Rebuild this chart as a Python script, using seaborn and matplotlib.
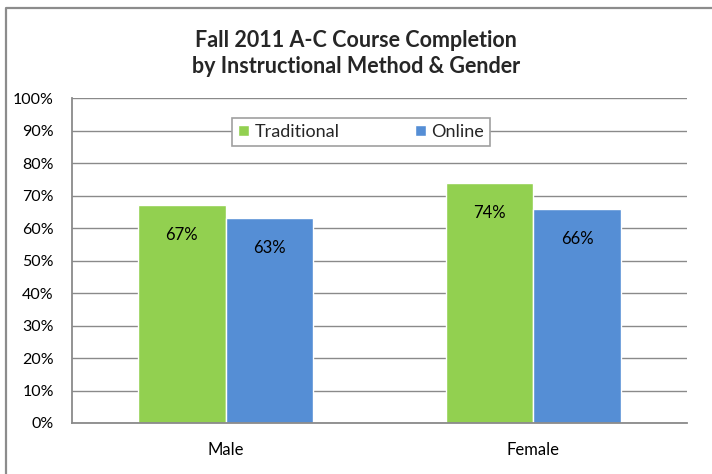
import matplotlib
matplotlib.use("Agg")
import matplotlib.pyplot as plt
import seaborn as sns
import pandas as pd
from matplotlib.ticker import PercentFormatter, MultipleLocator
from matplotlib.lines import Line2D

genders = ["Male", "Female"]
methods = ["Traditional", "Online"]
traditional = [0.67, 0.74]
online = [0.63, 0.66]
colors = {"Traditional": "#92D050", "Online": "#558ED5"}

df = pd.DataFrame({
    "gender": genders * 2,
    "method": ["Traditional"] * 2 + ["Online"] * 2,
    "value": traditional + online,
})

sns.set_theme(style="white")
plt.rcParams["font.family"] = ["Lato", "DejaVu Sans"]

fig = plt.figure(figsize=(7.12, 4.74), dpi=100)
ax = fig.add_axes([0.101, 0.1076, 0.864, 0.6856])

sns.barplot(data=df, x="gender", y="value", hue="method", hue_order=methods,
            palette=colors, width=0.57, saturation=1, ax=ax, legend=True)

# labels sit inside the top of each bar
for cont in ax.containers:
    for rect in cont:
        h = rect.get_height()
        ax.text(rect.get_x() + rect.get_width() / 2, h - 0.093, f"{h:.0%}",
                ha="center", va="center", fontsize=12, color="black")

ax.set_ylim(0, 1)
ax.yaxis.set_major_locator(MultipleLocator(0.1))
ax.yaxis.set_major_formatter(PercentFormatter(1.0, decimals=0))
ax.grid(axis="y", color="#8a8a8a", linewidth=1)
ax.set_axisbelow(True)
ax.set_xlabel("")
ax.set_ylabel("")
for s in ["top", "right"]:
    ax.spines[s].set_visible(False)
for s in ["left", "bottom"]:
    ax.spines[s].set_color("#8a8a8a")
    ax.spines[s].set_linewidth(1.3)
ax.tick_params(axis="y", labelsize=11.5, pad=13, colors="black", length=0)
ax.tick_params(axis="x", labelsize=12, pad=14, colors="black", length=0)

leg = ax.legend(loc="center", bbox_to_anchor=(0.26, 0.846, 0.42, 0.0985),
                mode="expand", ncol=2, frameon=True, fontsize=13,
                handlelength=0.6, handleheight=0.6, handletextpad=0.3,
                borderpad=0.35, borderaxespad=0, fancybox=False,
                edgecolor="#a0a0a0", framealpha=1)
leg.get_frame().set_linewidth(1.2)

fig.text(0.5, 0.887, "Fall 2011 A-C Course Completion\nby Instructional Method & Gender",
         ha="center", va="center", fontsize=15.5, fontweight="bold", linespacing=1.25)

fig.lines.append(Line2D([0.0085, 0.0085, 1.0], [0.0, 0.983, 0.983],
                        transform=fig.transFigure, color="#8c8c8c", linewidth=1.6))

fig.savefig("out.png", dpi=100)
